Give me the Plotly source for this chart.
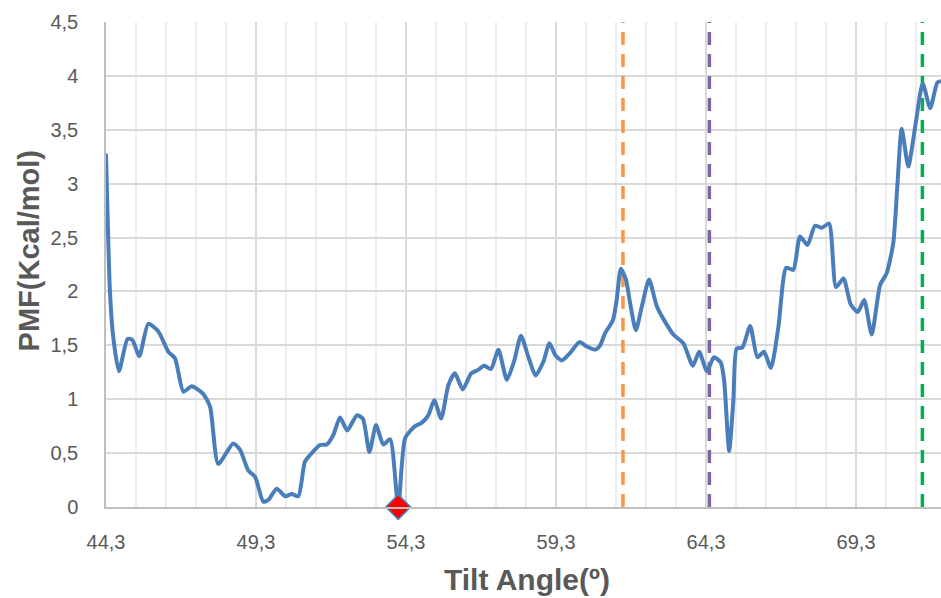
import plotly.graph_objects as go

# Tilt angle (degrees) and PMF (kcal/mol)
tilt = [44.30, 44.43, 44.54, 44.73, 45.02, 45.18, 45.41, 45.71, 46.04, 46.38,
        46.60, 46.88, 47.16, 47.54, 47.77, 48.04, 48.54, 48.77, 49.04, 49.27,
        49.54, 49.71, 49.99, 50.27, 50.49, 50.71, 50.93, 51.16, 51.43, 51.66,
        51.88, 52.10, 52.34, 52.66, 52.86, 53.08, 53.30, 53.54, 53.77, 54.04,
        54.27, 54.60, 54.82, 55.04, 55.24, 55.47, 55.71, 55.93, 56.19, 56.47,
        56.69, 56.91, 57.13, 57.38, 57.66, 57.91, 58.13, 58.38, 58.62, 58.88,
        59.08, 59.27, 59.49, 59.77, 60.08, 60.32, 60.60, 60.77, 60.93, 61.19,
        61.32, 61.46, 61.63, 61.77, 61.96, 62.16, 62.40, 62.66, 62.93, 63.21,
        63.54, 63.86, 64.07, 64.33, 64.56, 64.79, 64.90, 65.07, 65.21, 65.32,
        65.51, 65.77, 66.01, 66.23, 66.46, 66.71, 66.97, 67.21, 67.43, 67.68,
        67.93, 68.16, 68.40, 68.63, 68.88, 69.12, 69.36, 69.57, 69.82, 70.10,
        70.32, 70.54, 70.68, 70.82, 71.04, 71.27, 71.52, 71.77, 72.01, 72.13]
pmf = [3.28, 2.01, 1.58, 1.26, 1.56, 1.55, 1.40, 1.70, 1.63, 1.44,
       1.38, 1.07, 1.12, 1.05, 0.93, 0.40, 0.59, 0.53, 0.34, 0.28,
       0.05, 0.065, 0.17, 0.10, 0.12, 0.10, 0.42, 0.50, 0.575, 0.58,
       0.67, 0.83, 0.71, 0.85, 0.82, 0.51, 0.76, 0.58, 0.63, 0.00,
       0.64, 0.75, 0.78, 0.85, 0.99, 0.82, 1.13, 1.24, 1.09, 1.24,
       1.27, 1.31, 1.28, 1.46, 1.18, 1.36, 1.59, 1.39, 1.22, 1.35,
       1.52, 1.41, 1.36, 1.43, 1.53, 1.49, 1.46, 1.50, 1.61, 1.73,
       1.92, 2.21, 2.11, 1.89, 1.64, 1.86, 2.11, 1.86, 1.72, 1.60,
       1.52, 1.31, 1.44, 1.26, 1.39, 1.34, 1.18, 0.52, 0.99, 1.47,
       1.48, 1.68, 1.39, 1.44, 1.29, 1.67, 2.22, 2.20, 2.51, 2.43,
       2.61, 2.59, 2.63, 2.04, 2.12, 1.88, 1.81, 1.92, 1.60, 2.06,
       2.17, 2.45, 3.00, 3.51, 3.16, 3.53, 3.93, 3.70, 3.94, 3.95]

# Global minimum marker
min_x = [54.04]
min_y = [0.0]

# Vertical reference lines
vline_x = [61.53, 64.41, 71.51]
vline_colors = ["#F79646", "#8064A2", "#00B050"]

x_tickvals = [44.3, 49.3, 54.3, 59.3, 64.3, 69.3]
x_ticktext = ["44,3", "49,3", "54,3", "59,3", "64,3", "69,3"]
y_tickvals = [0, 0.5, 1, 1.5, 2, 2.5, 3, 3.5, 4, 4.5]
y_ticktext = ["0", "0,5", "1", "1,5", "2", "2,5", "3", "3,5", "4", "4,5"]

Y_MAX = 4.5

fig = go.Figure()

for vx, vc in zip(vline_x, vline_colors):
    fig.add_trace(go.Scatter(
        x=[vx, vx], y=[0, Y_MAX], mode="lines",
        line=dict(color=vc, width=3.5, dash="13px,9px"),
        hoverinfo="skip", showlegend=False))

fig.add_trace(go.Scatter(
    x=tilt, y=pmf, mode="lines",
    line=dict(color="#4A7EBB", width=4, shape="spline", smoothing=0.6),
    showlegend=False, cliponaxis=False))

fig.add_trace(go.Scatter(
    x=min_x, y=min_y, mode="markers",
    marker=dict(symbol="diamond", size=19, color="#FF0000",
                line=dict(color="#4A7EBB", width=1.5)),
    showlegend=False, cliponaxis=False))

tickfont = dict(family="Liberation Sans, Arial, sans-serif", size=20, color="#595959")
titlefont = dict(family="Liberation Sans, Arial, sans-serif", size=29, color="#595959")

fig.update_layout(
    width=941, height=598,
    margin=dict(l=106, r=0, t=22, b=91),
    paper_bgcolor="white", plot_bgcolor="white",
    xaxis=dict(
        range=[44.3, 72.13], tickmode="array", tickvals=x_tickvals, ticktext=x_ticktext,
        showgrid=True, gridcolor="#D9D9D9", gridwidth=1.5,
        minor=dict(tickmode="linear", tick0=44.3, dtick=1, showgrid=True,
                   gridcolor="#EDEDED", gridwidth=1.5),
        showline=True, linecolor="#BFBFBF", linewidth=1.5,
        zeroline=False, ticks="", tickfont=tickfont, ticklabelstandoff=16),
    yaxis=dict(
        range=[0, Y_MAX], tickmode="array", tickvals=y_tickvals, ticktext=y_ticktext,
        showgrid=True, gridcolor="#D9D9D9", gridwidth=1.5,
        showline=True, linecolor="#BFBFBF", linewidth=1.5,
        zeroline=False, ticks="", tickfont=tickfont, ticklabelstandoff=22),
    annotations=[
        dict(text="<b>Tilt Angle(º)</b>", xref="paper", yref="paper",
             x=0.504, y=-0.1505, xanchor="center", yanchor="middle",
             showarrow=False, font=dict(titlefont, size=30)),
        dict(text="<b>PMF(Kcal/mol)</b>", xref="paper", yref="paper",
             x=-0.0928, y=0.528, xanchor="center", yanchor="middle",
             textangle=-90, showarrow=False, font=titlefont),
    ],
)

fig.write_html("out.html", config={"displayModeBar": False},
               post_script="document.body.style.margin='0';document.body.style.overflow='hidden';")
